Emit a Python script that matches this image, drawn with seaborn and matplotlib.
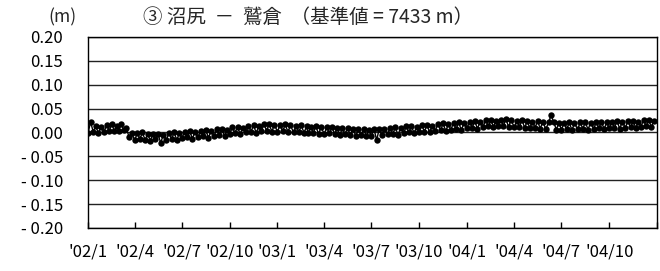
import numpy as np
import pandas as pd
import matplotlib
matplotlib.use("Agg")
import matplotlib.pyplot as plt
import matplotlib.dates as mdates
from matplotlib.ticker import FuncFormatter, MultipleLocator
import seaborn as sns

# baseline change (m), six readings per month (days 1, 6, 11, 16, 21, 26)
y2002 = [-0.002, 0.022, 0.002, 0.013, -0.001, 0.011,
         0.002, 0.015, 0.004, 0.017, 0.003, 0.014,
         0.004, 0.017, 0.006, 0.009, -0.009, -0.002,
         -0.015, -0.002, -0.013, 0.000, -0.016, -0.003,
         -0.017, -0.004, -0.014, -0.003, -0.022, -0.005,
         -0.015, -0.002, -0.013, 0.000, -0.016, -0.001,
         -0.012, 0.002, -0.010, 0.003, -0.013, 0.001,
         -0.010, 0.004, -0.008, 0.005, -0.011, 0.003,
         -0.007, 0.007, -0.005, 0.008, -0.008, 0.006,
         -0.003, 0.011, -0.001, 0.012, -0.004, 0.010,
         0.000, 0.014, 0.002, 0.015, -0.001, 0.013,
         0.003, 0.017, 0.004, 0.018, 0.002, 0.016]
y2003 = [0.002, 0.016, 0.003, 0.017, 0.001, 0.015,
         0.000, 0.014, 0.001, 0.015, -0.001, 0.013,
         -0.002, 0.012, -0.001, 0.013, -0.003, 0.011,
         -0.003, 0.011, -0.002, 0.012, -0.004, 0.010,
         -0.005, 0.009, -0.004, 0.010, -0.006, 0.008,
         -0.007, 0.007, -0.006, 0.008, -0.008, 0.006,
         -0.007, 0.007, -0.016, 0.008, -0.006, 0.007,
         -0.004, 0.010, -0.003, 0.011, -0.005, 0.009,
         -0.001, 0.013, 0.000, 0.014, -0.002, 0.012,
         0.001, 0.015, 0.002, 0.016, 0.000, 0.014,
         0.004, 0.018, 0.005, 0.019, 0.003, 0.017,
         0.006, 0.020, 0.007, 0.021, 0.005, 0.019]
y2004 = [0.009, 0.023, 0.010, 0.024, 0.008, 0.022,
         0.012, 0.026, 0.013, 0.027, 0.011, 0.025,
         0.013, 0.027, 0.014, 0.028, 0.012, 0.026,
         0.011, 0.025, 0.012, 0.026, 0.010, 0.024,
         0.009, 0.023, 0.010, 0.024, 0.008, 0.022,
         0.007, 0.021, 0.036, 0.022, 0.006, 0.020,
         0.006, 0.020, 0.007, 0.021, 0.005, 0.019,
         0.007, 0.021, 0.008, 0.022, 0.006, 0.020,
         0.008, 0.022, 0.009, 0.023, 0.007, 0.021,
         0.009, 0.023, 0.010, 0.024, 0.008, 0.022,
         0.010, 0.024, 0.011, 0.025, 0.009, 0.023,
         0.012, 0.026, 0.013, 0.027, 0.011, 0.025]
years = [2002, 2003, 2004]
days = [1, 6, 11, 16, 21, 26]

dates = [pd.Timestamp(y, m, d) for y in years for m in range(1, 13) for d in days]
df = pd.DataFrame({"date": dates, "value": y2002 + y2003 + y2004})

sns.set_theme(style="white")
plt.rcParams['font.family'] = ['Noto Sans CJK JP', 'DejaVu Sans']

fig = plt.figure(figsize=(6.6, 2.71), dpi=100)
ax = fig.add_axes([0.1333, 0.1587, 0.8622, 0.7048])

ax.set_axisbelow(True)
ax.yaxis.grid(True, color="#222222", linewidth=1.0)
ax.xaxis.grid(False)

sns.lineplot(data=df, x="date", y="value", ax=ax, color="black",
             linewidth=1.0, marker="o", markersize=4.6,
             markeredgewidth=0, legend=False)

ax.set_xlim(pd.Timestamp(2002, 1, 1), pd.Timestamp(2005, 1, 1))
ax.set_ylim(-0.20, 0.20)
ax.yaxis.set_major_locator(MultipleLocator(0.05))


def yfmt(v, pos):
    if v < -1e-9:
        return "- %.2f" % abs(v)
    return "%.2f" % abs(v)


def xfmt(v, pos):
    d = mdates.num2date(v)
    if d.year >= 2005:
        return ""
    return "'%s/%d" % (d.strftime("%y"), d.month)


ax.yaxis.set_major_formatter(FuncFormatter(yfmt))
ax.xaxis.set_major_locator(mdates.MonthLocator(bymonth=[1, 4, 7, 10]))
ax.xaxis.set_major_formatter(FuncFormatter(xfmt))

ax.tick_params(axis="y", length=0, pad=18, labelsize=12, labelcolor="black")
ax.tick_params(axis="x", direction="in", length=4, width=1, color="black",
               pad=11, labelsize=12, labelcolor="black", bottom=True)
ax.set_xlabel("")
ax.set_ylabel("")

for sp in ax.spines.values():
    sp.set_visible(True)
    sp.set_color("black")
    sp.set_linewidth(1.0)

fig.text(0.073, 0.935, "(m)", fontsize=12.5, ha="left", va="center")
fig.text(0.216, 0.935, "③ 沼尻  －  鷲倉  （基準値 = 7433 m）", fontsize=14,
         ha="left", va="center")

fig.savefig("out.png", dpi=100)
